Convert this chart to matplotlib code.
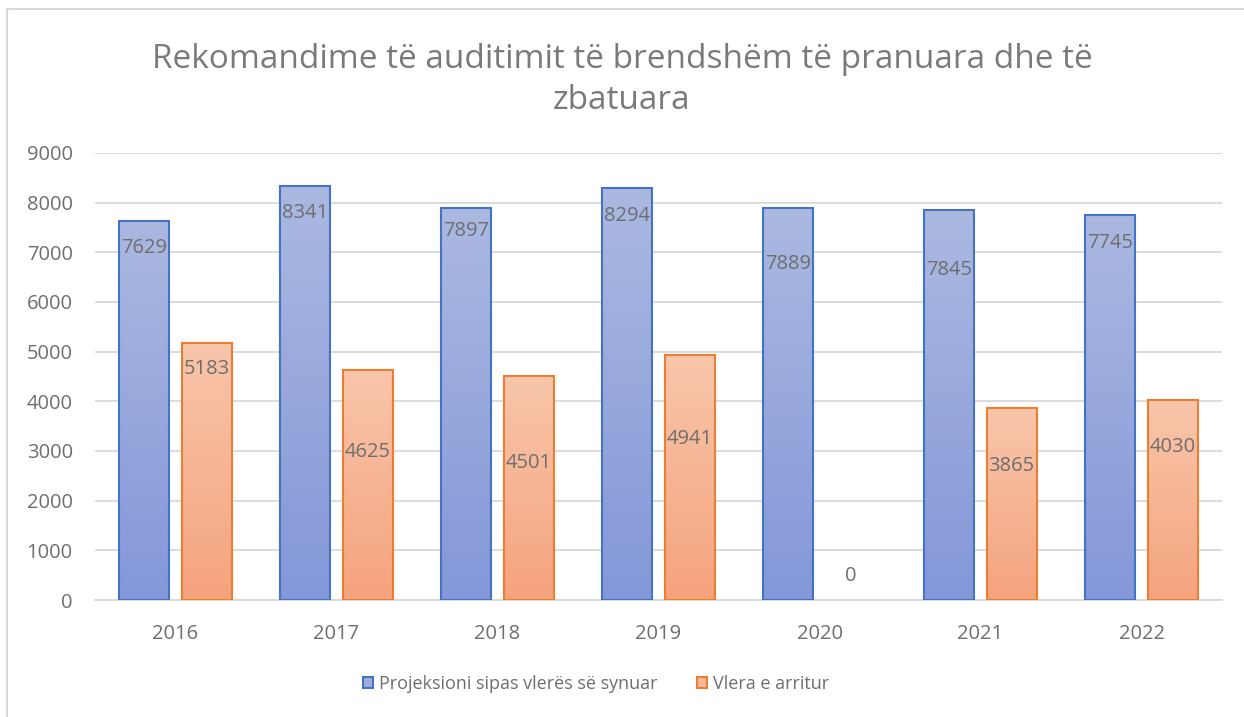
#!/usr/bin/env python3

import numpy as np
import matplotlib
matplotlib.use("Agg")
import matplotlib.pyplot as plt
from matplotlib.colors import LinearSegmentedColormap
from matplotlib.patches import Rectangle

plt.rcParams["font.family"] = ["Open Sans", "DejaVu Sans"]

years = ["2016", "2017", "2018", "2019", "2020", "2021", "2022"]
projected = [7629, 8341, 7897, 8294, 7889, 7845, 7745]
achieved = [5183, 4625, 4501, 4941, 0, 3865, 4030]
series_names = ["Projeksioni sipas vlerës së synuar", "Vlera e arritur"]
title = "Rekomandime të auditimit të brendshëm të pranuara dhe të\nzbatuara"

# how far each value label sits below the top of its bar (pixels)
proj_label_drop = [27, 27, 23, 28, 56, 60, 28]
ach_label_drop = [26, 82, 87, 84, -24, 58, 47]

grey = "#6E6E6E"
grid = "#D9D9D9"
blue_edge, orange_edge = "#4472C4", "#ED7D31"
blue_cmap = LinearSegmentedColormap.from_list("b", ["#8497D8", "#ABB9E1"])
orange_cmap = LinearSegmentedColormap.from_list("o", ["#F5A37D", "#F8C6AB"])

fig = plt.figure(figsize=(12.44, 7.17), dpi=100)
ax = fig.add_axes([95 / 1244, 117 / 717, 1127 / 1244, 447 / 717])

# outer chart border (runs off the right and bottom edges)
fig.patches.append(Rectangle((7 / 1244, -0.1), 1.2, 1 - 9 / 717 + 0.1,
                             transform=fig.transFigure, fill=False,
                             edgecolor="#D9D9D9", linewidth=1.5))

x = np.arange(len(years))
width = 0.31
shift = 0.193
grad = np.linspace(0, 1, 256).reshape(-1, 1)

for vals, off, cmap, edge, drops in [
    (projected, -shift, blue_cmap, blue_edge, proj_label_drop),
    (achieved, shift, orange_cmap, orange_edge, ach_label_drop),
]:
    bars = ax.bar(x + off, vals, width, facecolor="none", edgecolor=edge,
                  linewidth=1.5, zorder=3)
    for b, v, d in zip(bars, vals, drops):
        if v > 0:
            im = ax.imshow(grad, extent=[b.get_x(), b.get_x() + width, 0, v],
                           origin="lower", cmap=cmap, aspect="auto", zorder=2)
            im.set_clip_path(b)
        else:
            b.set_linewidth(0)
        ax.annotate(str(v), (b.get_x() + width / 2, v), xytext=(0, -d * 0.72),
                    textcoords="offset points", ha="center", va="center",
                    fontsize=14.5, color=grey, zorder=4)

ax.set_xlim(-0.5, len(years) - 0.5)
ax.set_ylim(0, 9000)
ax.set_yticks(range(0, 9001, 1000))
ax.set_xticks(x)
ax.set_xticklabels(years)
ax.tick_params(axis="both", length=0, labelsize=14.5, colors=grey)
ax.tick_params(axis="y", pad=16)
ax.tick_params(axis="x", pad=17)
ax.grid(axis="y", color=grid, linewidth=1.3, zorder=0)
ax.set_axisbelow(True)
for s in ["top", "right", "left"]:
    ax.spines[s].set_visible(False)
ax.spines["bottom"].set_color(grid)
ax.spines["bottom"].set_linewidth(1.3)

fig.text(0.5, 1 - 80 / 717, title, ha="center", va="center", fontsize=24,
         color="#7A7A7A", linespacing=1.3)

handles = [Rectangle((0, 0), 1, 1, facecolor="#9DADDE", edgecolor=blue_edge, linewidth=1.5),
           Rectangle((0, 0), 1, 1, facecolor="#F7B898", edgecolor=orange_edge, linewidth=1.5)]
fig.legend(handles, series_names, loc="center", bbox_to_anchor=(596 / 1244, 1 - 684 / 717),
           ncol=2, frameon=False, fontsize=13, labelcolor=grey,
           handlelength=0.55, handleheight=0.55, handletextpad=0.35, columnspacing=2.2)

fig.savefig("out.png", dpi=100)
